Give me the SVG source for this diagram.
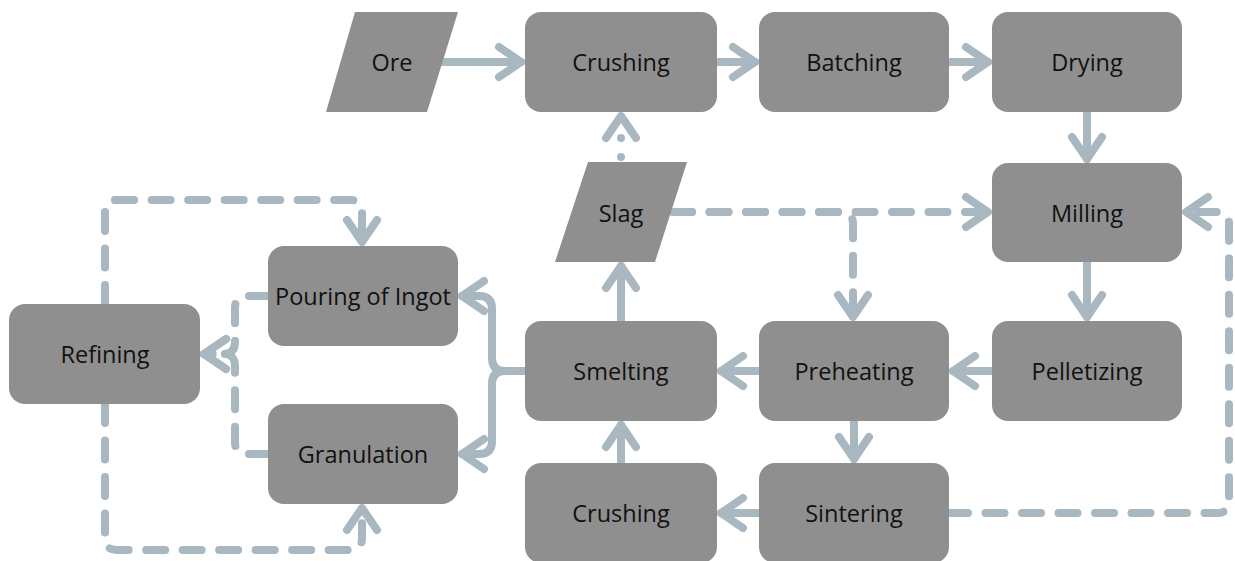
<svg xmlns="http://www.w3.org/2000/svg" width="1235" height="561" viewBox="0 0 1235 561">
<style>
.n{fill:#8f8f8f}
.t{font-family:"Open Sans","Noto Sans","Liberation Sans",sans-serif;font-size:23.5px;fill:#111111;text-anchor:middle;dominant-baseline:central}
.c{fill:none;stroke:#a9b7c0;stroke-width:8;stroke-linecap:round;stroke-linejoin:round}
.d{stroke-dasharray:19 17.5}
</style>
<defs>
<marker id="ah" markerUnits="userSpaceOnUse" viewBox="-30 -20 36 40" markerWidth="36" markerHeight="40" refX="0" refY="0" orient="auto" overflow="visible">
<path d="M-22,-15 L0,0 L-22,15" fill="none" stroke="#a9b7c0" stroke-width="8" stroke-linecap="round" stroke-linejoin="round"/>
</marker>
</defs>
<rect width="1235" height="561" fill="#ffffff"/>
<g id="connectors">
<path class="c" marker-end="url(#ah)" d="M443,62 H521"/>
<path class="c" marker-end="url(#ah)" d="M717,62 H755"/>
<path class="c" marker-end="url(#ah)" d="M949,62 H988"/>
<path class="c" marker-end="url(#ah)" d="M1087,112 V159"/>
<path class="c" marker-end="url(#ah)" d="M1087,262 V317"/>
<path class="c" marker-end="url(#ah)" d="M992,371 H953"/>
<path class="c" marker-end="url(#ah)" d="M759,371 H721"/>
<path class="c" marker-end="url(#ah)" d="M854,421 V459"/>
<path class="c" marker-end="url(#ah)" d="M759,513 H721"/>
<path class="c" marker-end="url(#ah)" d="M621,463 V425"/>
<path class="c" marker-end="url(#ah)" d="M621,321 V266"/>
<path class="c" marker-end="url(#ah)" stroke-dasharray="0 19 0 100" d="M621,157 V116"/>
<path class="c" marker-end="url(#ah)" d="M526,371 H505 Q492,371 492,358 V309 Q492,296 479,296 H462"/>
<path class="c" marker-end="url(#ah)" d="M526,371 H505 Q492,371 492,384 V441 Q492,454 479,454 H462"/>
<path class="c d" marker-end="url(#ah)" d="M673,212 H988"/>
<path class="c d" marker-end="url(#ah)" d="M673,212 H841 Q853,212 853,224 V317"/>
<path class="c d" marker-end="url(#ah)" d="M949,513 H1217 Q1229,513 1229,501 V224 Q1229,212 1217,212 H1186"/>
<path class="c d" marker-end="url(#ah)" d="M105,304 V212 Q105,200 117,200 H350 Q362,200 362,212 V242"/>
<path class="c d" marker-end="url(#ah)" d="M105,404 V538 Q105,550 117,550 H350 Q362,550 362,538 V508"/>
<path class="c d" marker-end="url(#ah)" d="M268,296 H247 Q235,296 235,308 V342 Q235,354 223,354 H204"/>
<path class="c d" marker-end="url(#ah)" d="M268,454 H247 Q235,454 235,442 V366 Q235,354 223,354 H204"/>
</g>
<g id="ore"><polygon class="n" points="355,12 458,12 427,112 326,112"/><text class="t" x="392" y="62">Ore</text></g>
<g id="crushing1"><rect class="n" x="525" y="12" width="192" height="100" rx="16"/><text class="t" x="621" y="62">Crushing</text></g>
<g id="batching"><rect class="n" x="759" y="12" width="190" height="100" rx="16"/><text class="t" x="854" y="62">Batching</text></g>
<g id="drying"><rect class="n" x="992" y="12" width="190" height="100" rx="16"/><text class="t" x="1087" y="62">Drying</text></g>
<g id="milling"><rect class="n" x="992" y="163" width="190" height="99" rx="16"/><text class="t" x="1087" y="213">Milling</text></g>
<g id="pelletizing"><rect class="n" x="992" y="321" width="190" height="100" rx="16"/><text class="t" x="1087" y="371">Pelletizing</text></g>
<g id="preheating"><rect class="n" x="759" y="321" width="190" height="100" rx="16"/><text class="t" x="854" y="371">Preheating</text></g>
<g id="smelting"><rect class="n" x="525" y="321" width="192" height="100" rx="16"/><text class="t" x="621" y="371">Smelting</text></g>
<g id="sintering"><rect class="n" x="759" y="463" width="190" height="100" rx="16"/><text class="t" x="854" y="513">Sintering</text></g>
<g id="crushing2"><rect class="n" x="525" y="463" width="192" height="100" rx="16"/><text class="t" x="621" y="513">Crushing</text></g>
<g id="slag"><polygon class="n" points="588,162 687,162 655,262 555,262"/><text class="t" x="621" y="213">Slag</text></g>
<g id="pouring"><rect class="n" x="268" y="246" width="190" height="100" rx="16"/><text class="t" x="363" y="296">Pouring of Ingot</text></g>
<g id="granulation"><rect class="n" x="268" y="404" width="190" height="100" rx="16"/><text class="t" x="363" y="454">Granulation</text></g>
<g id="refining"><rect class="n" x="9" y="304" width="191" height="100" rx="16"/><text class="t" x="105" y="354">Refining</text></g>
</svg>
